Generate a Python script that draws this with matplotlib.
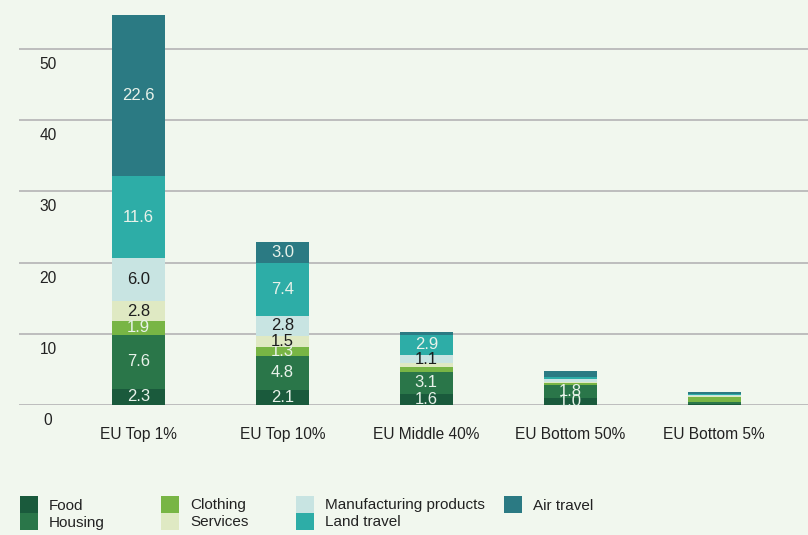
import numpy as np
import matplotlib
matplotlib.use("Agg")
import matplotlib.pyplot as plt
from matplotlib.patches import Rectangle
from matplotlib import transforms

plt.rcParams["font.family"] = ["Liberation Sans", "DejaVu Sans"]

groups = ["EU Top 1%", "EU Top 10%", "EU Middle 40%", "EU Bottom 50%", "EU Bottom 5%"]
categories = ["Food", "Housing", "Clothing", "Services",
              "Manufacturing products", "Land travel", "Air travel"]
food = [2.3, 2.1, 1.6, 1.0, 0.2]
housing = [7.6, 4.8, 3.1, 1.8, 0.2]
clothing = [1.9, 1.3, 0.6, 0.3, 0.7]
services = [2.8, 1.5, 0.6, 0.2, 0.1]
manufacturing = [6.0, 2.8, 1.1, 0.4, 0.2]
land_travel = [11.6, 7.4, 2.9, 0.3, 0.1]
air_travel = [22.6, 3.0, 0.4, 0.8, 0.3]
yticks = [0, 10, 20, 30, 40, 50]

series = [food, housing, clothing, services, manufacturing, land_travel, air_travel]
colors = ["#1a5a3c", "#2a7649", "#78b545", "#dfe9c3", "#c8e4e2", "#2dada7", "#2b7a83"]
label_colors = ["#e8f2ea", "#e8f2ea", "#e8f2ea", "#1e1e1e", "#1e1e1e", "#e8f2ea", "#e8f2ea"]
bg = "#f1f7ee"
W, H = 808, 535

fig = plt.figure(figsize=(W / 100, H / 100), dpi=100)
fig.patch.set_facecolor(bg)
ax = fig.add_axes([19 / W, 130 / H, 789 / W, 405 / H])
ax.set_facecolor(bg)
ax.set_ylim(0, 4050 / 71.2)
ax.set_xlim(-0.83, 4.652)

for v in yticks:
    ax.axhline(v, color="#bdbdbd", lw=1.4, zorder=0)

lab_tr = transforms.offset_copy(
    transforms.blended_transform_factory(ax.transAxes, ax.transData),
    fig=fig, y=-8, units="dots")
for v in yticks:
    ax.text(0.0368, v, str(v), transform=lab_tr, ha="center", va="top",
            fontsize=11.2, color="#222222")

x = np.arange(len(groups))
bottom = np.zeros(len(groups))
for vals, col, lc in zip(series, colors, label_colors):
    vals = np.array(vals)
    ax.bar(x, vals, width=0.368, bottom=bottom, color=col, zorder=2, linewidth=0)
    for xi, b, v in zip(x, bottom, vals):
        if v >= 1.0:
            ax.text(xi, b + v / 2, f"{v:.1f}", ha="center", va="center",
                    fontsize=12, color=lc, zorder=3)
    bottom += vals

ax.set_ylim(0, 4050 / 71.2)
ax.set_xticks(x)
ax.set_xticklabels(groups, fontsize=11.2, color="#222222")
ax.tick_params(axis="x", length=0, pad=16)
ax.set_yticks([])
for s in ax.spines.values():
    s.set_visible(False)

# legend, column by column
col_x = [19.6, 161, 296, 504]
row_y = [496, 513]
for i, (name, col) in enumerate(zip(categories, colors)):
    cx = col_x[i // 2]
    ry = row_y[i % 2]
    fig.add_artist(Rectangle((cx / W, 1 - (ry + 17) / H), 18 / W, 17 / H,
                             transform=fig.transFigure, color=col, lw=0))
    fig.text((cx + 29) / W, 1 - (ry + 9.5) / H, name, ha="left", va="center",
             fontsize=11, color="#222222")

fig.savefig("out.png", dpi=100, facecolor=bg)
